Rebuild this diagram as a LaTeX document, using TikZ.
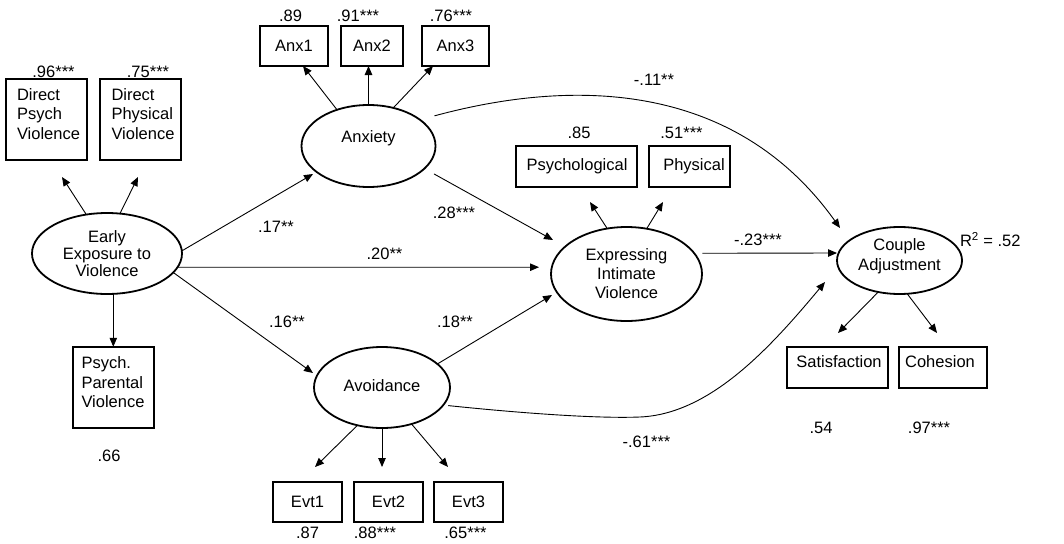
\documentclass[tikz,border=0pt]{standalone}
\usepackage{fontspec}
\setmainfont{Liberation Sans}
\usetikzlibrary{arrows.meta,shapes.geometric}
\begin{document}
\begin{tikzpicture}[x=1pt,y=-1pt,
  every node/.style={font=\fontsize{16.5}{19.5}\selectfont, inner sep=0pt, outer sep=0pt},
  lat/.style={draw, ellipse, line width=1.8pt, align=center},
  obs/.style={draw, rectangle, line width=1.8pt},
  arr/.style={line width=0.9pt, -{Triangle[length=9pt,width=7.5pt]}},
  lbl/.style={}
]
\useasboundingbox (0,0) rectangle (1064,543);

% ---------- latent variables ----------
\node[lat, font=\fontsize{16.5}{17}\selectfont, minimum width=150pt, minimum height=81pt] (ee) at (107,253.5) {Early\\Exposure to\\Violence};
\node[lat, minimum width=134pt, minimum height=82pt] (anx) at (368.5,146) {};
\node[anchor=base] (anxT) at (368.5,142.3) {Anxiety};
\node[lat, minimum width=136pt, minimum height=81pt] (avo) at (382,387.5) {};
\node (avoT) at (382,386) {Avoidance};
\node[lat, font=\fontsize{16.5}{19}\selectfont, minimum width=151pt, minimum height=94pt] (expr) at (626.5,274) {Expressing\\Intimate\\Violence};
\node[lat, minimum width=125pt, minimum height=67pt] (cpl) at (899.5,260.5) {};
\node[align=center, font=\fontsize{16.5}{20}\selectfont] (cplT) at (899.5,256) {Couple\\Adjustment};
\node[anchor=base west] (r2) at (960,246.5) {R\textsuperscript{2} = .52};

% ---------- observed indicators ----------
\node[obs, minimum width=81pt, minimum height=81pt] (dpsy) at (46.5,119.7) {};
\node[anchor=west, align=left] (dpsyT) at (17,114) {Direct\\Psych\\Violence};
\node[obs, minimum width=81pt, minimum height=81pt] (dphy) at (140.5,119.7) {};
\node[anchor=west, align=left] (dphyT) at (111.5,114) {Direct\\Physical\\Violence};
\node[obs, minimum width=81pt, minimum height=81.5pt] (ppv) at (113.3,387.5) {};
\node[anchor=west, align=left] (ppvT) at (81.5,382.4) {Psych.\\Parental\\Violence};

\node[obs, minimum width=68pt, minimum height=40pt] (anx1) at (294,46) {Anx1};
\node[obs, minimum width=62pt, minimum height=40pt] (anx2) at (372,46) {Anx2};
\node[obs, minimum width=67pt, minimum height=40pt] (anx3) at (455.5,46) {Anx3};

\node[obs, minimum width=121pt, minimum height=41pt] (psyc) at (576.5,166.5) {};
\node[anchor=base] (psycT) at (577,170.5) {Psychological};
\node[obs, minimum width=81pt, minimum height=41pt] (phys) at (689.5,166.5) {};
\node[anchor=base] (physT) at (694,170.5) {Physical};

\node[obs, minimum width=69pt, minimum height=40pt] (evt1) at (307.5,502) {Evt1};
\node[obs, minimum width=69pt, minimum height=40pt] (evt2) at (388.5,502) {Evt2};
\node[obs, minimum width=69pt, minimum height=40pt] (evt3) at (468.5,502) {Evt3};

\node[obs, minimum width=101pt, minimum height=41pt] (sat) at (837.5,367.5) {};
\node (satT) at (839,361.7) {Satisfaction};
\node[obs, minimum width=88pt, minimum height=41pt] (coh) at (943,367.5) {};
\node (cohT) at (940,361.7) {Cohesion};

% ---------- arrow end points ----------
\coordinate (tdpsy) at (62,177);
\coordinate (tdphy) at (138,177);
\coordinate (tanx) at (313,174);
\coordinate (tavo) at (313,373);
\coordinate (texpr1) at (539,267.2);
\coordinate (texpr2) at (553,240);
\coordinate (texpr3) at (552,295);
\coordinate (tanx1) at (303,66);
\coordinate (tanx2) at (368.5,66);
\coordinate (tanx3) at (433,66);
\coordinate (tevt1) at (315,467);
\coordinate (tevt2) at (382,467);
\coordinate (tevt3) at (448,467);
\coordinate (tpsyc) at (590,202);
\coordinate (tphys) at (663,202);
\coordinate (tcpl1) at (840,228);
\coordinate (tcpl2) at (837,253);
\coordinate (tcpl3) at (825,282);
\coordinate (tsat) at (838,333);
\coordinate (tcoh) at (937,333);

% ---------- connectors ----------
\draw[arr] (ee.118.5) -- (tdpsy);
\draw[arr] (ee.72) -- (tdphy);
\draw[arr] (ee.south -| ppv.north) -- (ppv.north);
\draw[arr] (ee.2) -- (tanx);
\draw[arr] (ee.-11) -- (texpr1);
\draw[arr] (ee.-16) -- (tavo);

\draw[arr] (anx.131) -- (tanx1);
\draw[arr] (anx.90) -- (tanx2);
\draw[arr] (anx.57) -- (tanx3);
\draw[arr, shorten <=11pt] (anx.-22) -- (texpr2);
\draw[arr, shorten <=15pt] (anx.27) .. controls (530,90) and (720,60) .. (tcpl1);

\draw[arr] (avo.-123) -- (tevt1);
\draw[arr] (avo.-90) -- (tevt2);
\draw[arr] (avo.-51) -- (tevt3);
\draw[arr] (avo.23.6) -- (texpr3);
\draw[arr, shorten <=5pt] (avo.-16.5) .. controls (500,411) and (590,419) .. (640,417)
   .. controls (710,414) and (770,348) .. (tcpl3);

\draw[arr] (expr.113) -- (tpsyc);
\draw[arr] (expr.66) -- (tphys);
\draw[arr, shorten <=8pt] (expr.17.3) -- (tcpl2);

\draw[arr] (cpl.-124.7) -- (tsat);
\draw[arr] (cpl.-77) -- (tcoh);

% ---------- coefficient labels ----------
\node[lbl] (l1) at (53.5,71.7) {.96***};
\node[lbl] (l2) at (148,71.7) {.75***};
\node[lbl] (l3) at (290.5,15.7) {.89};
\node[lbl] (l4) at (358,15.7) {.91***};
\node[lbl] (l5) at (451,15.7) {.76***};
\node[lbl] (l6) at (654,80) {-.11**};
\node[lbl] (l7) at (579,133) {.85};
\node[lbl] (l8) at (681.5,133) {.51***};
\node[lbl] (l9) at (276,226.7) {.17**};
\node[lbl] (l10) at (454,213) {.28***};
\node[lbl] (l11) at (384.5,254) {.20**};
\node[lbl] (l12) at (758,240) {-.23***};
\node[lbl] (l13) at (287,321.7) {.16**};
\node[lbl] (l14) at (455,321.7) {.18**};
\node[lbl] (l15) at (646.5,441.7) {-.61***};
\node[lbl] (l16) at (821,428) {.54};
\node[lbl] (l17) at (929,428) {.97***};
\node[lbl] (l18) at (109,456) {.66};
\node[lbl] (l19) at (307.5,533) {.87};
\node[lbl] (l20) at (375,533) {.88***};
\node[lbl] (l21) at (465.5,533) {.65***};
\end{tikzpicture}
\end{document}
